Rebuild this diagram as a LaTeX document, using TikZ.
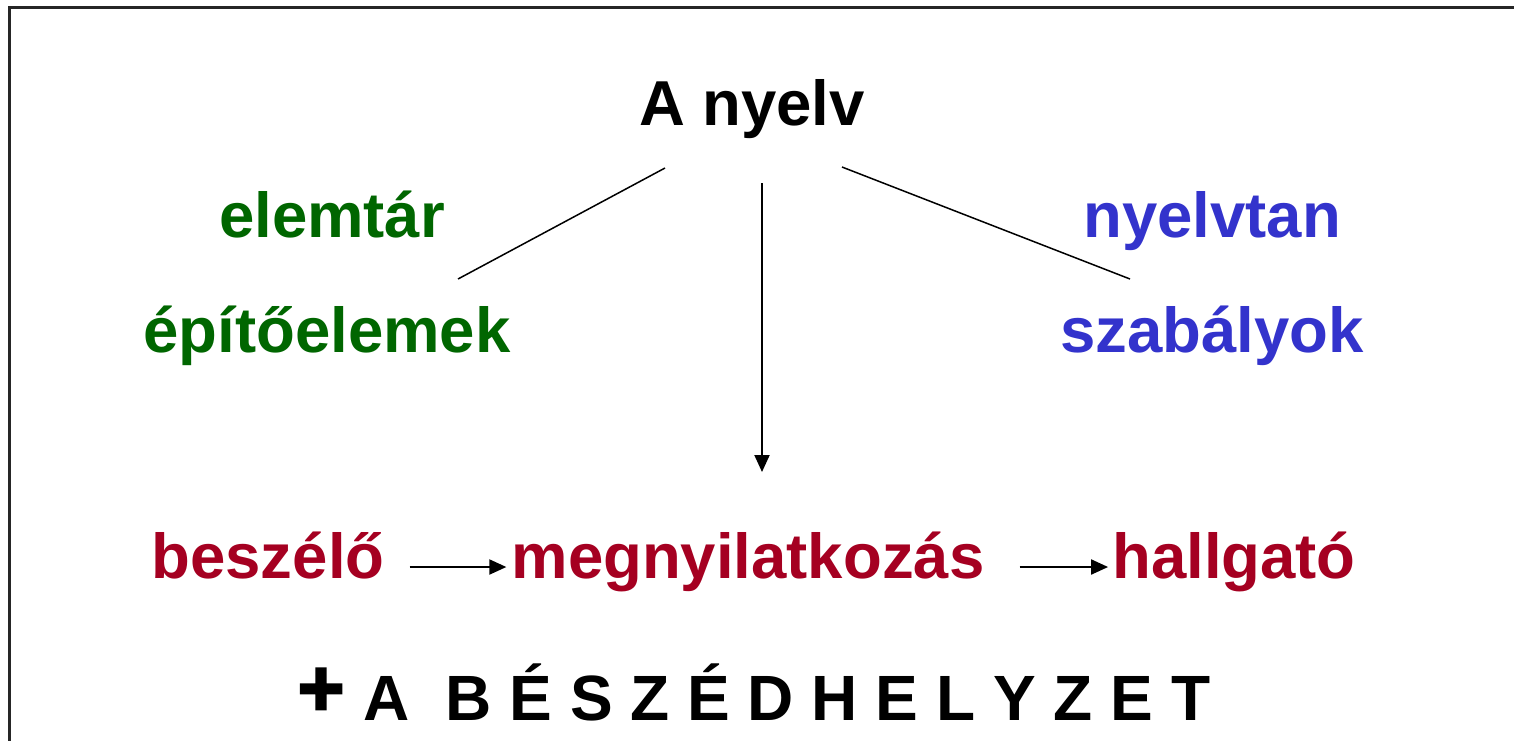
\documentclass[tikz,border=0pt]{standalone}
\usepackage{fontspec}
\setmainfont{Liberation Sans}
\newfontfamily\pluszbetu[FakeBold=3]{Liberation Sans Bold}
\usepackage{tikz}
\usetikzlibrary{arrows.meta}
\definecolor{elemzold}{RGB}{0,102,0}
\definecolor{szabkek}{RGB}{51,51,204}
\definecolor{beszvoros}{RGB}{165,0,33}
\tikzset{
	szo/.style={anchor=base,inner sep=0pt,font=\fontsize{63.5}{70}\selectfont\bfseries},
	nyil/.style={line width=2pt,-{Triangle[length=17pt,width=15pt]}},
	vonal/.style={line width=1.5pt}
}

\begin{document}
\begin{tikzpicture}[x=1pt,y=-1pt]
	\useasboundingbox (0,0) rectangle (1514,740);
	\clip (0,0) rectangle (1514,740);
	\draw[line width=3pt,black!85] (9,7) rectangle (1540,770);
	
	\node[szo] (nyelv) at (752,125) {A nyelv};
	\node[szo,text=elemzold] (elemtar) at (332,237) {elemtár};
	\node[szo,text=elemzold] (epito) at (327,352) {építőelemek};
	\node[szo,text=szabkek] (nyelvtan) at (1212,237) {nyelvtan};
	\node[szo,text=szabkek] (szabaly) at (1212,352) {szabályok};
	\node[szo,text=beszvoros] (beszelo) at (268,578) {beszélő};
	\node[szo,text=beszvoros] (megny) at (748,578) {megnyilatkozás};
	\node[szo,text=beszvoros] (hallgato) at (1234,578) {hallgató};
	\node[szo,font=\fontsize{64}{70}\selectfont\bfseries] (helyzet) at (787,720) {A\ \ B É S Z É D H E L Y Z E T};
	\node[anchor=center,inner sep=0pt] (plusz) at (321,692) {\pluszbetu\fontsize{80}{82}\selectfont +};
	
	\coordinate (nybal) at (665,168);
	\coordinate (nyjobb) at (842,167);
	\coordinate (nyle) at (762,183);
	\coordinate (elemv) at (458,279);
	\coordinate (szabv) at (1130,279);
	\coordinate (megnyf) at (762,472);
	
	\draw[vonal] (nybal) -- (elemv);
	\draw[vonal] (nyjobb) -- (szabv);
	\path[nyil]
	(nyle) edge (megnyf)
	([yshift=11pt]beszelo.base east) edge[shorten <=25pt,shorten >=5pt] ([yshift=11pt]megny.base west)
	([yshift=11pt]megny.base east) edge[shorten <=35pt,shorten >=4pt] ([yshift=11pt]hallgato.base west);
	
\end{tikzpicture}
\end{document}
